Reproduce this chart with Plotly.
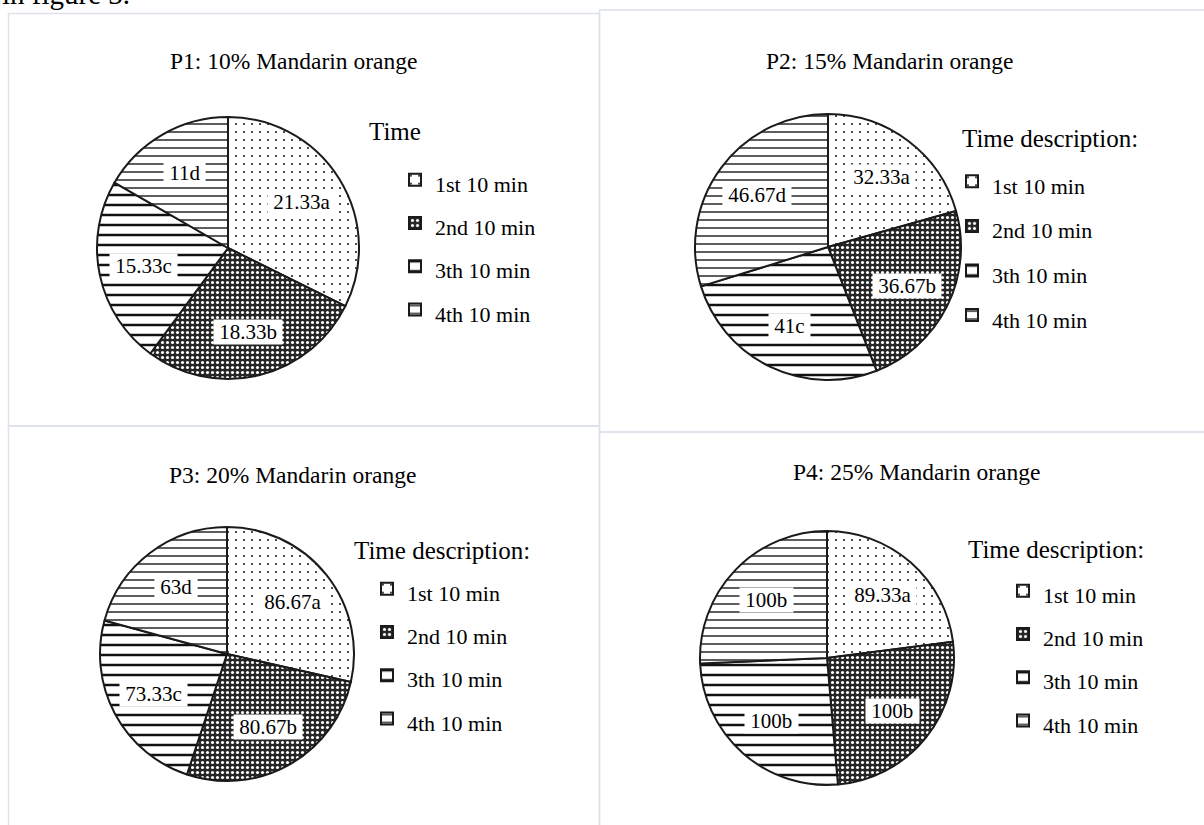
import math
import plotly.graph_objects as go

W, H = 1204, 825
FONT = "Liberation Serif, Times New Roman, serif"

# ---- data -------------------------------------------------------------
periods = ["1st 10 min", "2nd 10 min", "3th 10 min", "4th 10 min"]

p1_values = [21.33, 18.33, 15.33, 11]
p1_letters = ["a", "b", "c", "d"]

p2_values = [32.33, 36.67, 41, 46.67]
p2_letters = ["a", "b", "c", "d"]

p3_values = [86.67, 80.67, 73.33, 63]
p3_letters = ["a", "b", "c", "d"]

p4_values = [89.33, 100, 100, 100]
p4_letters = ["a", "b", "b", "b"]

chart_titles = [
    "P1: 10% Mandarin orange",
    "P2: 15% Mandarin orange",
    "P3: 20% Mandarin orange",
    "P4: 25% Mandarin orange",
]
legend_titles = ["Time", "Time description:", "Time description:", "Time description:"]

# ---- layout of the four panels (pixel positions) -----------------------
panels = [
    dict(values=p1_values, letters=p1_letters, cx=228, cy=248, d=262,
         title_xy=(293, 61), ltitle_xy=(367, 131), legend_xy=(395, 153), legend_fs=31),
    dict(values=p2_values, letters=p2_letters, cx=828, cy=247, d=266,
         title_xy=(889, 61), ltitle_xy=(960, 139), legend_xy=(952, 154), legend_fs=32),
    dict(values=p3_values, letters=p3_letters, cx=227, cy=654, d=254,
         title_xy=(292, 475), ltitle_xy=(352, 550), legend_xy=(367, 562), legend_fs=31),
    dict(values=p4_values, letters=p4_letters, cx=827, cy=658, d=254,
         title_xy=(916, 472), ltitle_xy=(966, 549), legend_xy=(1003, 564), legend_fs=31),
]


def px(x):
    return x / W


def py(y):
    return 1 - y / H


# fill patterns: dots, dark lattice, heavy rules, fine rules
pattern = dict(
    shape=[".", ".", "-", "-"],
    size=[8, 5, 10, 8],
    solidity=[0.05, 0.3, 0.25, 0.17],
    fgcolor=["#111111", "white", "#111111", "#111111"],
    bgcolor=["white", "#262626", "white", "white"],
    fillmode="replace",
)

fig = go.Figure()
annotations = []
legend_names = ["legend", "legend2", "legend3", "legend4"]
legends = {}

for i, p in enumerate(panels):
    r = p["d"] / 2
    fig.add_trace(go.Pie(
        labels=[f"<span style='font-size:22px'>{t}</span>" for t in periods],
        values=p["values"],
        sort=False,
        direction="clockwise",
        rotation=0,
        textinfo="none",
        hoverinfo="skip",
        marker=dict(pattern=pattern, line=dict(color="#1a1a1a", width=2)),
        domain=dict(x=[px(p["cx"] - r), px(p["cx"] + r)],
                    y=[py(p["cy"] + r), py(p["cy"] - r)]),
        legend=legend_names[i],
        legendgroup=f"pie{i + 1}",
    ))

    # value labels with a white box, placed along each slice's bisector
    total = sum(p["values"])
    cum = 0
    for v, letter in zip(p["values"], p["letters"]):
        theta = math.radians(360 * (cum + v / 2) / total)
        cum += v
        lx = p["cx"] + 0.66 * r * math.sin(theta)
        ly = p["cy"] - 0.66 * r * math.cos(theta)
        annotations.append(dict(
            x=px(lx), y=py(ly), xref="paper", yref="paper",
            text=f"\u00a0{v:g}{letter}\u00a0", showarrow=False,
            font=dict(family=FONT, size=21, color="black"),
            bgcolor="white", borderpad=0,
            xanchor="center", yanchor="middle",
        ))

    tx, ty = p["title_xy"]
    annotations.append(dict(
        x=px(tx), y=py(ty), xref="paper", yref="paper", text=chart_titles[i],
        showarrow=False, font=dict(family=FONT, size=23.5, color="black"),
        xanchor="center", yanchor="middle",
    ))
    lx, ly = p["ltitle_xy"]
    annotations.append(dict(
        x=px(lx), y=py(ly), xref="paper", yref="paper", text=legend_titles[i],
        showarrow=False, font=dict(family=FONT, size=25, color="black"),
        xanchor="left", yanchor="middle",
    ))

    gx, gy = p["legend_xy"]
    legends[legend_names[i]] = dict(
        x=px(gx), y=py(gy), xanchor="left", yanchor="top",
        font=dict(family=FONT, size=p["legend_fs"], color="black"),
        bgcolor="rgba(0,0,0,0)", borderwidth=0, traceorder="normal",
        visible=True,
    )

# running text of the page above the figure
annotations.append(dict(
    x=0, y=1 - 12 / H, xref="paper", yref="paper", text="in figure 3.",
    showarrow=False, font=dict(family=FONT, size=29, color="black"),
    xanchor="left", yanchor="bottom",
))

# panel frames
BORDER = dict(color="#dde1ea", width=1.5)
frames = [
    (8.5, 13.5, 599.5, 426),
    (599.5, 10, 1210, 432),
    (8.5, 426, 599.5, 835),
    (599.5, 432, 1210, 835),
]
shapes = [
    dict(type="rect", xref="paper", yref="paper",
         x0=px(x0), x1=px(x1), y0=py(y1), y1=py(y0), line=BORDER,
         fillcolor="rgba(0,0,0,0)", layer="below")
    for x0, y0, x1, y1 in frames
]

fig.update_layout(
    width=W, height=H,
    margin=dict(l=0, r=0, t=0, b=0),
    paper_bgcolor="white", plot_bgcolor="white",
    showlegend=True,
    annotations=annotations,
    shapes=shapes,
    **legends,
)

fig.write_html("out.html")
